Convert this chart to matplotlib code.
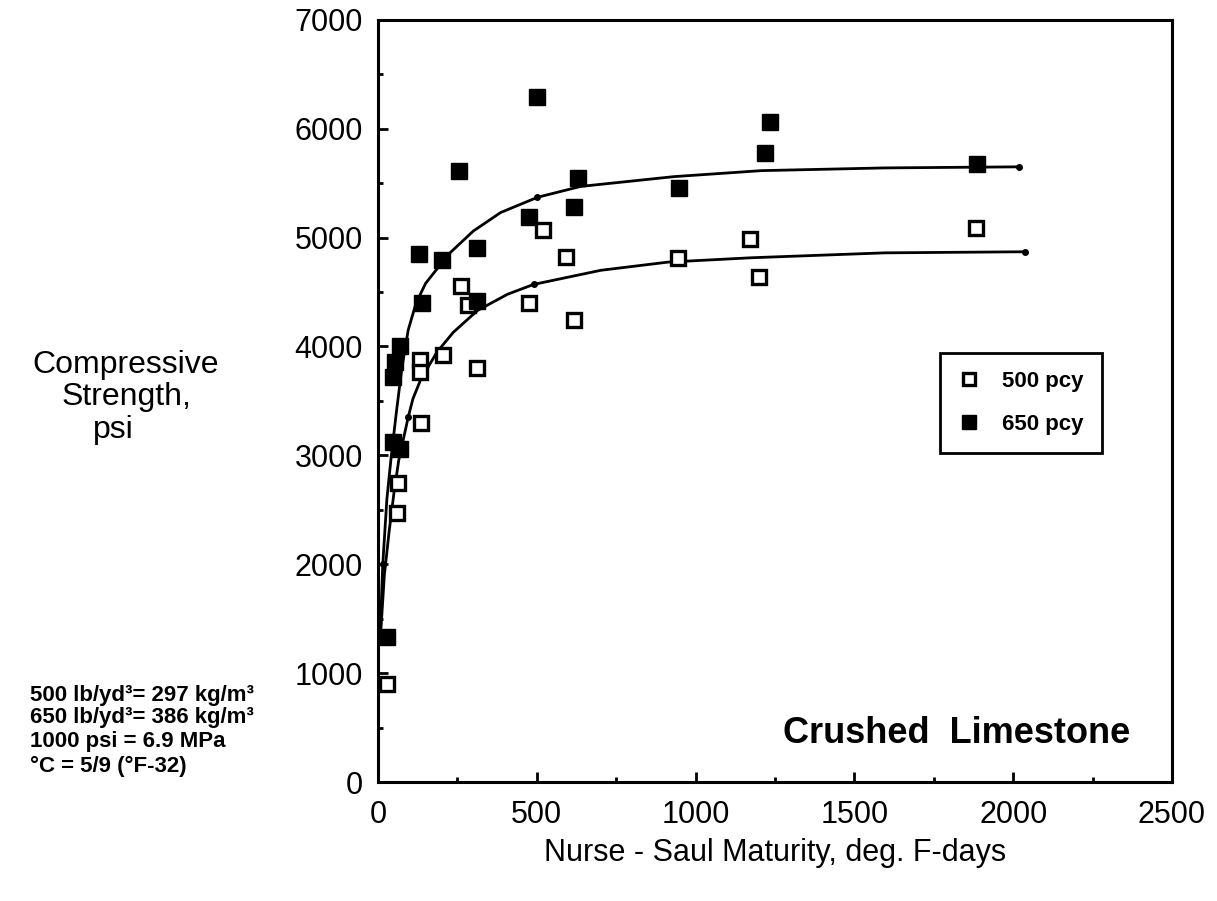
# ============================================================
# maturity_strength.py
# Compressive strength vs Nurse-Saul maturity, crushed limestone
# ============================================================

import matplotlib
matplotlib.use("Agg")
import matplotlib.pyplot as plt
from matplotlib.ticker import MultipleLocator

# ============================================================
# DATA — values
# ============================================================

# 500 pcy (open squares)
m500_x = [28, 60, 63, 135, 133, 133, 205, 313, 262, 284, 474, 518, 591, 617, 945, 1170, 1201, 1884]
m500_y = [900, 2470, 2745, 3300, 3880, 3770, 3920, 3800, 4560, 4380, 4400, 5070, 4820, 4240, 4810, 4990, 4640, 5090]

# 650 pcy (filled squares)
m650_x = [28, 47, 70, 47, 55, 70, 139, 130, 202, 256, 313, 313, 502, 474, 629, 617, 948, 1233, 1217, 1887]
m650_y = [1330, 3120, 3060, 3720, 3860, 4000, 4400, 4850, 4790, 5610, 4900, 4420, 6290, 5190, 5550, 5280, 5460, 6060, 5780, 5680]

# fitted curves
fit500_x = [8, 20, 35, 50, 65, 95, 110, 135, 186, 237, 313, 408, 490, 702, 913, 1176, 1596, 2038]
fit500_y = [1350, 1900, 2300, 2650, 2950, 3350, 3520, 3700, 3950, 4130, 4330, 4480, 4570, 4700, 4775, 4815, 4860, 4870]
fit500_dots = [5, 12, 17]

fit650_x = [6, 15, 28, 42, 58, 75, 95, 120, 150, 223, 300, 386, 502, 638, 932, 1207, 1596, 2019]
fit650_y = [1300, 2000, 2600, 3000, 3400, 3800, 4150, 4400, 4580, 4850, 5060, 5230, 5370, 5470, 5560, 5615, 5640, 5650]
fit650_dots = [1, 12, 17]

legend_labels = ["500 pcy", "650 pcy"]

notes = [
    "500 lb/yd\u00b3= 297 kg/m\u00b3",
    "650 lb/yd\u00b3= 386 kg/m\u00b3",
    "1000 psi = 6.9 MPa",
    "\u00b0C = 5/9 (\u00b0F-32)",
]


def main():
    plt.rcParams["font.family"] = ["Liberation Sans", "DejaVu Sans"]

    fig = plt.figure(figsize=(12.17, 9.01), dpi=100)
    ax = fig.add_axes([0.3106, 0.132, 0.6524, 0.846])

    # fitted curves
    ax.plot(fit500_x, fit500_y, color="black", lw=2.0, marker="o", ms=4,
            markevery=fit500_dots, zorder=2)
    ax.plot(fit650_x, fit650_y, color="black", lw=2.0, marker="o", ms=4,
            markevery=fit650_dots, zorder=2)

    # data
    h500, = ax.plot(m500_x, m500_y, ls="none", marker="s", ms=10,
                    mfc="white", mec="black", mew=2.4, zorder=3)
    h650, = ax.plot(m650_x, m650_y, ls="none", marker="s", ms=12,
                    mfc="black", mec="black", mew=1.0, zorder=4)

    ax.set_xlim(0, 2500)
    ax.set_ylim(0, 7000)
    ax.xaxis.set_major_locator(MultipleLocator(500))
    ax.xaxis.set_minor_locator(MultipleLocator(250))
    ax.yaxis.set_major_locator(MultipleLocator(1000))
    ax.yaxis.set_minor_locator(MultipleLocator(500))

    ax.tick_params(which="both", direction="in", width=2, top=False, right=False)
    ax.tick_params(which="major", length=7, labelsize=22)
    ax.tick_params(axis="x", which="major", pad=13)
    ax.tick_params(axis="y", which="major", pad=11)
    ax.tick_params(which="minor", length=3.5)
    for sp in ax.spines.values():
        sp.set_linewidth(2.2)

    ax.set_xlabel("Nurse - Saul Maturity, deg. F-days", fontsize=22, labelpad=6)

    ax.text(0.947, 0.064, "Crushed  Limestone", transform=ax.transAxes,
            ha="right", va="center", fontsize=26, fontweight="bold")

    leg = ax.legend([h500, h650], legend_labels, loc="upper left",
                    bbox_to_anchor=(0.708, 0.563), borderaxespad=0,
                    fancybox=False, edgecolor="black", framealpha=1,
                    markerscale=0.8, handlelength=1.0, handletextpad=1.0,
                    borderpad=0.8, labelspacing=1.0,
                    prop={"size": 16, "weight": "bold"})
    leg.get_frame().set_linewidth(2)

    # y label, drawn as separate lines like the original
    fig.text(0.103, 1 - 365 / 901, "Compressive", ha="center", va="center", fontsize=23)
    fig.text(0.104, 1 - 397 / 901, "Strength,", ha="center", va="center", fontsize=23)
    fig.text(0.093, 1 - 430 / 901, "psi", ha="center", va="center", fontsize=23)

    # unit conversions
    for line, py in zip(notes, [695, 718, 742, 766]):
        fig.text(30 / 1217, 1 - py / 901, line, ha="left", va="center",
                 fontsize=16, fontweight="bold")

    fig.savefig("out.png", dpi=100)


if __name__ == "__main__":
    main()
